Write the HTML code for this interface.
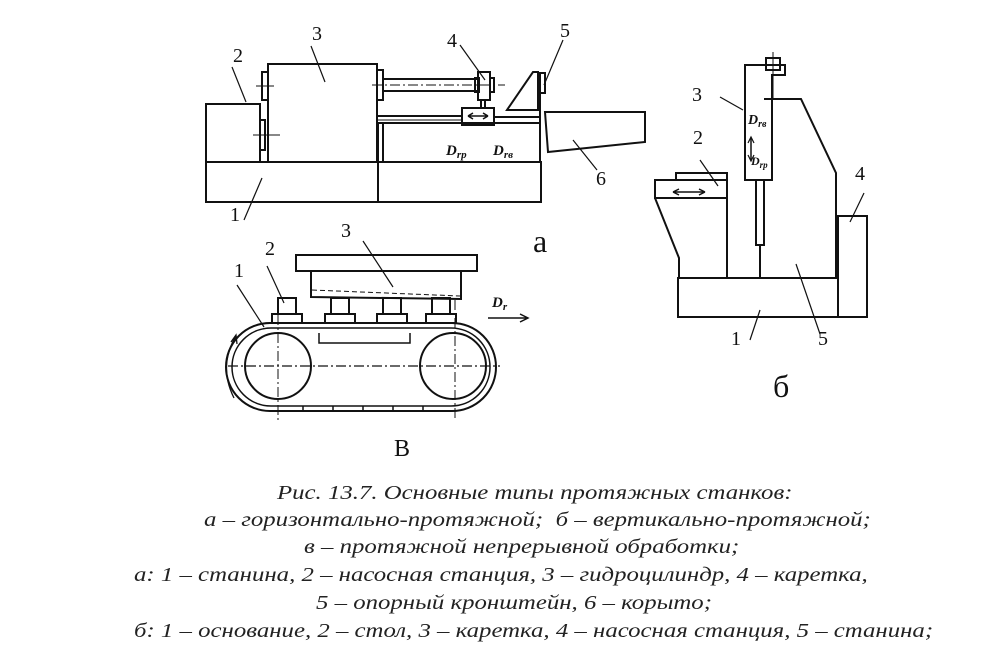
<!DOCTYPE html>
<html><head><meta charset="utf-8"><style>
body{margin:0;background:#fff;width:1000px;height:654px;overflow:hidden}
svg{position:absolute;left:0;top:0}
.c{position:absolute;font:italic 20px/23px "Liberation Serif",serif;color:#222;white-space:pre;transform:scaleX(1.24);transform-origin:0 0}
</style></head><body>
<svg width="1000" height="654" viewBox="0 0 1000 654" font-family="Liberation Serif, serif" fill="none" stroke="#111" stroke-width="2">
<!-- a -->
<rect x="206" y="162" width="335" height="40"/>
<line x1="378" y1="162" x2="378" y2="202"/>
<rect x="206" y="104" width="54" height="58"/>
<rect x="268" y="64" width="109" height="98"/>
<rect x="262" y="72" width="6" height="28"/><line x1="256" y1="86" x2="274" y2="86" stroke-width="1"/>
<rect x="260" y="120" width="5" height="30"/><line x1="253" y1="135" x2="280" y2="135" stroke-width="1"/>
<rect x="377" y="70" width="6" height="30"/>
<line x1="383" y1="79" x2="478" y2="79"/><line x1="383" y1="91" x2="478" y2="91"/>
<line x1="372" y1="85" x2="505" y2="85" stroke-width="1" stroke-dasharray="10,3,2,3"/>
<rect x="478" y="72" width="12" height="28"/><rect x="475" y="78" width="4" height="14"/><rect x="490" y="78" width="4" height="14"/>
<rect x="481" y="100" width="4" height="8"/>
<rect x="462" y="108" width="32" height="17"/>
<path d="M468 116H488M468 116l5-3M468 116l5 3M488 116l-5-3M488 116l-5 3" stroke-width="1.5"/>
<line x1="378" y1="116" x2="462" y2="116"/><line x1="378" y1="120" x2="462" y2="120" stroke-width="1"/>
<line x1="494" y1="117" x2="541" y2="117"/>
<line x1="378" y1="123" x2="541" y2="123"/>
<line x1="378" y1="123" x2="378" y2="162"/><line x1="383" y1="123" x2="383" y2="162"/>
<path d="M507 110L533 72H538V110Z"/>
<line x1="540" y1="72" x2="540" y2="162"/>
<rect x="540" y="73" width="5" height="20"/>
<path d="M545 112H645V142L548 152Z"/>
<g stroke-width="1.2">
<line x1="232" y1="67" x2="246" y2="102"/><line x1="311" y1="46" x2="325" y2="82"/>
<line x1="460" y1="45" x2="485" y2="80"/><line x1="563" y1="40" x2="544" y2="85"/>
<line x1="573" y1="140" x2="597" y2="170"/><line x1="244" y1="220" x2="262" y2="178"/>
</g>
<g fill="#111" stroke="none" font-size="20">
<text x="233" y="62">2</text><text x="312" y="40">3</text><text x="447" y="47">4</text><text x="560" y="37">5</text><text x="596" y="185">6</text><text x="230" y="221">1</text>
<text x="533" y="252" font-size="32">а</text>
<text x="446" y="155" font-size="15" font-style="italic" font-weight="bold">D<tspan font-size="11" dy="3">rp</tspan></text>
<text x="493" y="155" font-size="15" font-style="italic" font-weight="bold">D<tspan font-size="11" dy="3">rв</tspan></text>
</g>
<!-- б -->
<rect x="678" y="278" width="160" height="39"/>
<rect x="838" y="216" width="29" height="101"/>
<path d="M764 99H801L836 173V278"/>
<path d="M655 180H727V198H655Z"/><path d="M676 180V173H727V180"/>
<path d="M655 198L679 258V278M727 198V278"/>
<path d="M745 65H785V75H772V180H745Z"/>
<rect x="766" y="58" width="14" height="12"/><line x1="773" y1="52" x2="773" y2="100" stroke-width="1"/>
<rect x="756" y="180" width="8" height="65"/><line x1="760" y1="245" x2="760" y2="278"/>
<line x1="751" y1="138" x2="751" y2="160" stroke-width="1.5"/>
<path d="M748 143l3-6 3 6M748 155l3 6 3-6" stroke-width="1.2"/>
<path d="M673 192H705M673 192l6-3M673 192l6 3M705 192l-6-3M705 192l-6 3" stroke-width="1.5"/>
<g stroke-width="1.2">
<line x1="720" y1="97" x2="743" y2="110"/><line x1="700" y1="160" x2="718" y2="186"/>
<line x1="864" y1="193" x2="850" y2="222"/><line x1="750" y1="340" x2="760" y2="310"/><line x1="820" y1="334" x2="796" y2="264"/>
</g>
<g fill="#111" stroke="none" font-size="20">
<text x="692" y="101">3</text><text x="693" y="144">2</text><text x="855" y="180">4</text><text x="731" y="345">1</text><text x="818" y="345">5</text>
<text x="773" y="397" font-size="32">б</text>
<text x="748" y="124" font-size="14" font-style="italic" font-weight="bold">D<tspan font-size="10" dy="3">rв</tspan></text>
<text x="751" y="165" font-size="12" font-style="italic" font-weight="bold">D<tspan font-size="9" dy="3">rp</tspan></text>
</g>
<!-- в -->
<rect x="296" y="255" width="181" height="16"/>
<path d="M311 271V297L461 299V271"/>
<path d="M312 290L460 296" stroke-width="1" stroke-dasharray="5,3"/>
<rect x="278" y="298" width="18" height="16"/><rect x="272" y="314" width="30" height="9"/>
<rect x="331" y="298" width="18" height="16"/><rect x="325" y="314" width="30" height="9"/>
<rect x="383" y="298" width="18" height="16"/><rect x="377" y="314" width="30" height="9"/>
<rect x="432" y="298" width="18" height="16"/><rect x="426" y="314" width="30" height="9"/>
<rect x="226" y="323" width="270" height="88" rx="44"/>
<rect x="232" y="328" width="258" height="78" rx="39" stroke-width="1.5"/>
<circle cx="278" cy="366" r="33"/><circle cx="453" cy="366" r="33"/>
<path d="M319 333V343H410V333" stroke-width="1.5"/>
<line x1="228" y1="366" x2="500" y2="366" stroke-width="1.2" stroke-dasharray="10,3,2,3"/>
<line x1="278" y1="315" x2="278" y2="420" stroke-width="1" stroke-dasharray="10,3,2,3"/>
<line x1="455" y1="300" x2="455" y2="420" stroke-width="1" stroke-dasharray="10,3,2,3"/>
<g stroke-width="1.5"><line x1="303" y1="406" x2="303" y2="411"/><line x1="333" y1="406" x2="333" y2="411"/><line x1="363" y1="406" x2="363" y2="411"/><line x1="393" y1="406" x2="393" y2="411"/><line x1="423" y1="406" x2="423" y2="411"/></g>
<path d="M234 398Q218 366 236 336" stroke-width="1.3"/><path d="M231 342l5-7 1 9" stroke-width="1.3"/>
<path d="M488 318H528M520 314l8 4-8 4" stroke-width="1.5"/>
<g stroke-width="1.2">
<line x1="237" y1="285" x2="264" y2="327"/><line x1="267" y1="266" x2="284" y2="303"/><line x1="363" y1="241" x2="393" y2="287"/>
</g>
<g fill="#111" stroke="none" font-size="20">
<text x="234" y="277">1</text><text x="265" y="255">2</text><text x="341" y="237">3</text>
<text x="394" y="456" font-size="24">В</text>
<text x="492" y="307" font-size="15" font-style="italic" font-weight="bold">D<tspan font-size="11" dy="3">r</tspan></text>
</g>
</svg>
<div class="c" style="top:482px;left:277px">Рис. 13.7. Основные типы протяжных станков:</div>
<div class="c" style="top:509px;left:204px">а – горизонтально-протяжной;  б – вертикально-протяжной;</div>
<div class="c" style="top:536px;left:304px">в – протяжной непрерывной обработки;</div>
<div class="c" style="top:564px;left:134px">а: 1 – станина, 2 – насосная станция, 3 – гидроцилиндр, 4 – каретка,</div>
<div class="c" style="top:592px;left:316px">5 – опорный кронштейн, 6 – корыто;</div>
<div class="c" style="top:620px;left:134px">б: 1 – основание, 2 – стол, 3 – каретка, 4 – насосная станция, 5 – станина;</div>
</body></html>
